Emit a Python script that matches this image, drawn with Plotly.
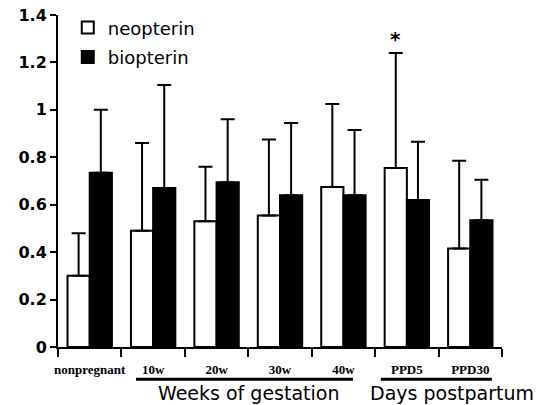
import plotly.graph_objects as go

categories = ["nonpregnant", "10w", "20w", "30w", "40w", "PPD5", "PPD30"]
neopterin = [0.30, 0.49, 0.53, 0.555, 0.675, 0.755, 0.415]
neopterin_sd = [0.18, 0.37, 0.23, 0.32, 0.35, 0.485, 0.37]
biopterin = [0.735, 0.67, 0.695, 0.64, 0.64, 0.62, 0.535]
biopterin_sd = [0.265, 0.435, 0.265, 0.305, 0.275, 0.245, 0.17]
y_ticks = [0, 0.2, 0.4, 0.6, 0.8, 1.0, 1.2, 1.4]
group_titles = ["Weeks of gestation", "Days postpartum"]

x = list(range(len(categories)))
zeros = [0] * len(categories)

fig = go.Figure()
fig.add_trace(go.Bar(
    x=x, y=neopterin, name="neopterin", legendgroup="a",
    marker=dict(color="white", line=dict(color="black", width=2)),
    error_y=dict(type="data", array=neopterin_sd, arrayminus=zeros, symmetric=False,
                 color="black", thickness=2, width=7),
))
fig.add_trace(go.Bar(
    x=x, y=biopterin, name="biopterin", legendgroup="b",
    marker=dict(color="black", line=dict(color="black", width=2)),
    error_y=dict(type="data", array=biopterin_sd, arrayminus=zeros, symmetric=False,
                 color="black", thickness=2, width=7),
))

# group underlines in a small helper subplot beneath the category labels
for x0, x1 in [(0.73, 4.15), (4.59, 6.34)]:
    fig.add_trace(go.Scatter(x=[x0, x1], y=[0.45, 0.45], mode="lines",
                             line=dict(color="black", width=3),
                             xaxis="x2", yaxis="y2", showlegend=False, hoverinfo="skip"))

fig.update_layout(
    width=538, height=405,
    margin=dict(l=58, r=36, t=15, b=5, autoexpand=False),
    paper_bgcolor="white", plot_bgcolor="white",
    barmode="group", bargap=0.3, bargroupgap=0,
    showlegend=True,
    legend=dict(x=0.022, y=1.0146, xanchor="left", yanchor="top",
                font=dict(family="DejaVu Sans", size=18, color="black"),
                bgcolor="rgba(0,0,0,0)", tracegroupgap=3, traceorder="grouped"),
    xaxis=dict(range=[-0.5, 6.5], tickmode="array", tickvals=x, ticktext=categories,
               automargin=False, anchor="y",
               ticks="outside", ticklen=9, tickcolor="rgba(0,0,0,0)",
               tickfont=dict(family="Liberation Serif", size=13, color="black", weight="bold"),
               showline=True, linecolor="black", linewidth=2, showgrid=False, zeroline=False,
               minor=dict(tickmode="array", tickvals=[i - 0.5 for i in range(len(categories) + 1)],
                          ticks="outside", ticklen=8, tickwidth=2, tickcolor="black")),
    yaxis=dict(range=[0, 1.4], domain=[0.13766, 1], tickmode="array", tickvals=y_ticks,
               automargin=False, anchor="x",
               ticks="outside", ticklen=6, tickwidth=2, tickcolor="black",
               tickfont=dict(family="DejaVu Sans", size=16, color="black", weight="bold"),
               showline=True, linecolor="black", linewidth=2, showgrid=False, zeroline=False),
    xaxis2=dict(range=[-0.5, 6.5], anchor="y2", visible=False, fixedrange=True),
    yaxis2=dict(range=[0, 1], domain=[0, 0.12], anchor="x2", visible=False, fixedrange=True),
    font=dict(family="DejaVu Sans", color="black"),
)

fig.add_annotation(x=2.51, y=0.018, xref="x", yref="paper", text=group_titles[0],
                   showarrow=False, yanchor="middle",
                   font=dict(family="DejaVu Sans", size=19, color="black"))
fig.add_annotation(x=5.71, y=0.018, xref="x", yref="paper", text=group_titles[1],
                   showarrow=False, yanchor="middle",
                   font=dict(family="DejaVu Sans", size=19, color="black"))
fig.add_annotation(x=5 - 0.175, y=neopterin[5] + neopterin_sd[5], xref="x", yref="y", text="*",
                   showarrow=False, yanchor="bottom", yshift=0,
                   font=dict(family="DejaVu Sans", size=20, color="black", weight="bold"))

fig.write_html("out.html", config={"displayModeBar": False},
               post_script="document.body.style.margin='0';")
